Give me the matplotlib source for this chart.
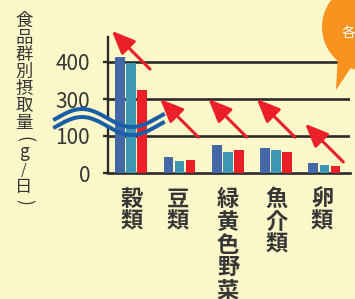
import numpy as np
import matplotlib
matplotlib.use('Agg')
import matplotlib.pyplot as plt
import matplotlib.transforms as mtransforms
from matplotlib.patches import Ellipse, Polygon

plt.rcParams['font.family'] = ['Noto Sans CJK JP', 'DejaVu Sans']

# ─── data ─────────────────────────────────────────
categories  = ["穀類", "豆類", "緑黄色野菜", "魚介類", "卵類"]
series_a    = [413, 44, 75, 67, 28]     # blue
series_b    = [397, 33, 58, 61, 22]     # teal
series_c    = [324, 36, 61, 56, 19]     # red
tick_values = [0, 100, 300, 400]
ylabel      = ["食", "品", "群", "別", "摂", "取", "量", "(", "g", "/", "日", ")"]
arrow_from  = [2.81, 0.97, 0.97, 0.97, 0.30]   # arrow tail height (axis units)
# ──────────────────────────────────────────────────

BG    = '#fdf8ca'
DARK  = '#2b2b2b'
TEXT  = '#363636'
BLUE  = '#4468a6'
TEAL  = '#3e98b4'
RED   = '#ea1f28'
WAVE  = '#1b5ea8'
ORNG  = '#f7931e'

def brk(v):
    # broken axis: 100..200 band removed
    return v / 100 if v < 200 else (v - 100) / 100

W, H = 355, 299
fig = plt.figure(figsize=(W/100, H/100), dpi=100, facecolor=BG)
px = mtransforms.Affine2D().scale(1/W, -1/H).translate(0, 1) + fig.transFigure

ax = fig.add_axes([107.5/W, 1-173/H, 242.5/W, 136/H])
ax.set_facecolor(BG)
x = np.arange(len(categories))
ax.set_xlim(-0.49, 4.53)
ax.set_ylim(0, 136/37)

bw = 0.2
ax.bar(x-0.23, [brk(v) for v in series_a], bw, color=BLUE, zorder=3)
ax.bar(x,      [brk(v) for v in series_b], bw, color=TEAL, zorder=3)
ax.bar(x+0.23, [brk(v) for v in series_c], bw, color=RED,  zorder=3)

for t in tick_values[1:]:
    ax.axhline(brk(t), color=DARK, lw=1.9, zorder=2)

for s in ['top', 'right']:
    ax.spines[s].set_visible(False)
ax.spines['left'].set_linewidth(1.7)
ax.spines['bottom'].set_linewidth(1.9)
ax.spines['left'].set_color(DARK)
ax.spines['bottom'].set_color(DARK)
ax.set_xticks([])
ax.set_yticks([brk(t) for t in tick_values])
ax.set_yticklabels([str(t) for t in tick_values])
ax.tick_params(axis='y', length=3.5, width=1.7, pad=9, labelsize=15,
               colors=DARK, labelcolor=TEXT)

# red arrows
for i, ty in enumerate(arrow_from):
    ax.annotate('', xy=(i-0.40, ty+1.03), xytext=(i+0.39, ty),
                annotation_clip=False,
                arrowprops=dict(arrowstyle='-|>,head_length=1.4,head_width=0.6',
                                color=RED, lw=2.2, shrinkA=0, shrinkB=0,
                                clip_on=False),
                zorder=5)

# axis break wave
wx = np.linspace(55, 163, 200)
wy = 118 - 9*np.cos(2*np.pi*(wx-82)/100)
ax.fill_between(wx, wy, wy+8, color=BG, transform=px, clip_on=False,
                zorder=2.6, lw=0)
ax.plot(wx, wy, color=WAVE, lw=2.9, transform=px, clip_on=False, zorder=4)
ax.plot(wx, wy+8, color=WAVE, lw=2.9, transform=px, clip_on=False, zorder=4)

# category labels, stacked vertically
cat_px = [132, 178, 228, 277, 322]
for cx, c in zip(cat_px, categories):
    for k, ch in enumerate(c):
        fig.text(cx/W, 1-(199 + 23*k)/H, ch, ha='center', va='center',
                 fontsize=16, fontweight='bold', color=TEXT)

# y label, stacked vertically
yl_px = [21, 38, 55, 72, 89, 106, 123, 139, 152, 170, 187, 202]
for yy, ch in zip(yl_px, ylabel):
    rot = -90 if ch in "()" else 0
    fs = 10.5 if ch == "/" else 12.5
    fig.text(24/W, 1-yy/H, ch, ha='center', va='center', rotation=rot,
             fontsize=fs, color=TEXT)

# speech bubble
ov = fig.add_axes([0, 0, 1, 1], zorder=10)
ov.set_xlim(0, W); ov.set_ylim(H, 0); ov.axis('off')
ov.add_patch(Ellipse((366, 27), 88, 88, color=ORNG, lw=0))
ov.add_patch(Polygon([(338, 52), (336, 90), (356, 60)], closed=True, color=ORNG, lw=0))
ov.text(349, 33, "各", color='white', fontsize=10, ha='center', va='center')

fig.savefig("out.png", dpi=100, facecolor=BG)
